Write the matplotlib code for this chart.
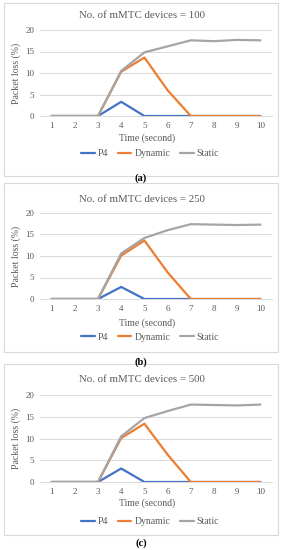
import matplotlib
matplotlib.use("Agg")
import matplotlib.pyplot as plt
from matplotlib.patches import Rectangle

plt.rcParams['font.family'] = ['Liberation Serif', 'DejaVu Serif']

time = [1, 2, 3, 4, 5, 6, 7, 8, 9, 10]
titles = ["No. of mMTC devices = 100", "No. of mMTC devices = 250", "No. of mMTC devices = 500"]
labels = ["(a)", "(b)", "(c)"]
series_names = ["P4", "Dynamic", "Static"]

p4_100 = [0, 0, 0, 3.3, 0, 0, 0, 0, 0, 0]
dyn_100 = [0, 0, 0, 10.3, 13.6, 6.0, 0, 0, 0, 0]
sta_100 = [0, 0, 0, 10.5, 14.8, 16.2, 17.6, 17.4, 17.7, 17.6]

p4_250 = [0, 0, 0, 2.8, 0, 0, 0, 0, 0, 0]
dyn_250 = [0, 0, 0, 10.1, 13.6, 6.2, 0, 0, 0, 0]
sta_250 = [0, 0, 0, 10.6, 14.2, 16.0, 17.4, 17.3, 17.2, 17.3]

p4_500 = [0, 0, 0, 3.1, 0, 0, 0, 0, 0, 0]
dyn_500 = [0, 0, 0, 10.1, 13.4, 6.3, 0, 0, 0, 0]
sta_500 = [0, 0, 0, 10.5, 14.7, 16.3, 17.8, 17.7, 17.6, 17.8]

data = [(p4_100, dyn_100, sta_100), (p4_250, dyn_250, sta_250), (p4_500, dyn_500, sta_500)]
colors = ["#4472C4", "#ED7D31", "#A5A5A5"]
txt = "#595959"

W, H = 282, 550
fig = plt.figure(figsize=(W / 100, H / 100), dpi=100)

# layout in pixels: (box_top, box_bottom, title_y, y20, y0, xlabel_y, legend_y, panel_label_y)
layouts = [
    (3, 176, 15, 30, 116, 138, 154, 178),
    (183, 352, 200, 213, 299, 323, 337, 362),
    (364, 535, 380, 395, 482, 503, 522, 543),
]

def fx(px):
    return px / W

def fy(py):
    return 1 - py / H

for i, (lay, (p4, dyn, sta)) in enumerate(zip(layouts, data)):
    btop, bbot, ty, y20, y0, xly, ly, ply = lay
    fig.patches.append(Rectangle((fx(4), fy(bbot)), fx(274), (bbot - btop) / H,
                                 transform=fig.transFigure, fill=False,
                                 edgecolor="#D9D9D9", linewidth=0.8))
    ax = fig.add_axes([fx(40), fy(y0), fx(232), (y0 - y20) / H])
    ax.set_xlim(0.5, 10.5)
    ax.set_ylim(0, 20)
    ax.set_yticks([0, 5, 10, 15, 20])
    ax.set_xticks(time)
    ax.grid(axis='y', color="#D9D9D9", linewidth=0.7)
    ax.set_axisbelow(True)
    for s in ['top', 'right', 'left']:
        ax.spines[s].set_visible(False)
    ax.spines['bottom'].set_color("#D9D9D9")
    ax.spines['bottom'].set_linewidth(0.7)
    ax.tick_params(length=0, labelsize=6.5, colors=txt, pad=4)
    lines = []
    for vals, c, n in zip((p4, dyn, sta), colors, series_names):
        ln, = ax.plot(time, vals, color=c, linewidth=1.6, label=n, solid_capstyle='round')
        lines.append(ln)
    ax.set_ylabel("Packet loss (%)", fontsize=7, color=txt, labelpad=3)
    fig.text(fx(142), fy(ty), titles[i], ha='center', va='center', fontsize=7.8, color=txt)
    fig.text(fx(147), fy(xly), "Time (second)", ha='center', va='center', fontsize=7, color=txt)
    fig.legend(lines, series_names, loc='center', bbox_to_anchor=(fx(150), fy(ly)),
               ncol=3, frameon=False, fontsize=7, labelcolor=txt, handlelength=1.4,
               columnspacing=1.0, handletextpad=0.3)
    fig.text(0.5, fy(ply), labels[i], ha='center', va='center', fontsize=7.5, fontweight='bold', color='black')

fig.savefig("out.png", dpi=100, facecolor='white')
